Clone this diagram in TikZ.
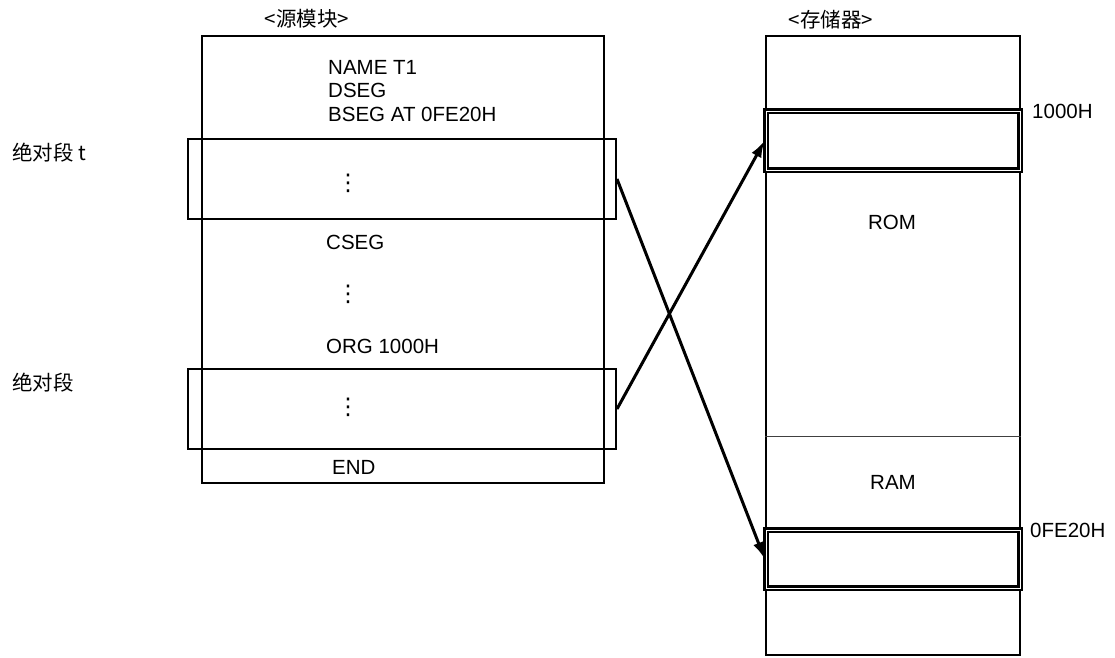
\documentclass[tikz,border=0pt]{standalone}
\usepackage{fontspec}
\setmainfont{Liberation Sans}
\newfontfamily\cjk{Noto Sans CJK SC}
\newfontfamily\symfont{DejaVu Sans}
\usepackage{tikz}
\usetikzlibrary{positioning,arrows.meta}
\tikzset{
  modbox/.style={draw, line width=2pt, inner sep=0pt},
  segbox/.style={draw, line width=2pt, inner sep=0pt},
  hotbox/.style={draw, double, line width=2.6pt, double distance=0.8pt, inner sep=0pt},
  codetext/.style={anchor=base west, inner sep=0pt},
  dotstext/.style={inner sep=0pt, font=\symfont\fontsize{23}{23}\selectfont},
  cjktext/.style={font=\cjk\fontsize{20.5}{23.5}\selectfont},
  sidelabel/.style={cjktext, anchor=west, inner sep=0pt},
  flowarrow/.style={-{Latex[length=17pt, width=11pt]}, line width=3pt}
}

\begin{document}
\begin{tikzpicture}[x=1pt, y=-1pt, every node/.style={font=\fontsize{20.5}{23.5}\selectfont}]
  \useasboundingbox (0,0) rectangle (1115,657);

  % source module
  \node[cjktext] (srctitle) at (307,19) {<源模块>};
  \node[modbox, minimum width=402pt, minimum height=447pt] (src) at (403,259.5) {};
  \node[segbox, minimum width=428pt, minimum height=80pt] (segt) at (402,179) {};
  \node[segbox, minimum width=428pt, minimum height=80pt] (segabs) at (402,409) {};
  \node[codetext] (name) at (328,74) {NAME T1};
  \node[codetext] (dseg) at (328,97) {DSEG};
  \node[codetext] (bseg) at (328,121) {BSEG AT 0FE20H};
  \node[dotstext] (dots1) at (348,183) {⋮};
  \node[codetext] (cseg) at (326,249) {CSEG};
  \node[dotstext] (dots2) at (348,294) {⋮};
  \node[codetext] (org) at (326,353) {ORG 1000H};
  \node[dotstext] (dots3) at (348,407) {⋮};
  \node[codetext] (endt) at (332,474) {END};
  \node[sidelabel] (labt) at (12,153) {绝对段 t};
  \node[sidelabel] (lababs) at (12,383) {绝对段};

  % memory
  \node[cjktext] (memtitle) at (831,20) {<存储器>};
  \node[modbox, minimum width=254pt, minimum height=619pt] (mem) at (893,345.5) {};
  \draw[line width=0.8pt, black!75] (mem.west |- 0,436) -- (mem.east |- 0,436);
  \node[hotbox, minimum width=254pt, minimum height=59pt] (romblk) at (893,140.5) {};
  \node[hotbox, minimum width=254pt, minimum height=58pt] (ramblk) at (893,559) {};
  \node[anchor=base] (rom) at (892,229) {ROM};
  \node[anchor=base] (ram) at (893,489) {RAM};
  \node[codetext] (addrrom) at (1032,118) {1000H};
  \node[codetext] (addrram) at (1030,537) {0FE20H};

  \draw[flowarrow] (segt.east) -- (ramblk.west);
  \draw[flowarrow] (segabs.east) -- (romblk.west);
\end{tikzpicture}
\end{document}
